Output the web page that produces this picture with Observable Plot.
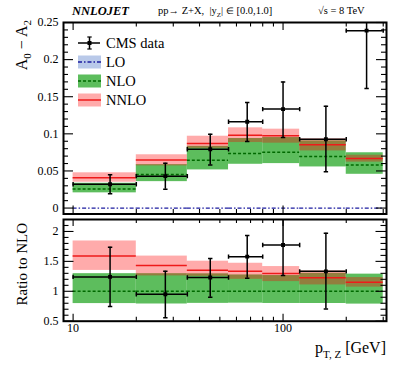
<!DOCTYPE html>
<html><head><meta charset="utf-8">
<script src="https://cdn.jsdelivr.net/npm/d3@7"></script>
<script src="https://cdn.jsdelivr.net/npm/@observablehq/plot@0.6"></script>
<style>
body{margin:0;background:#fff;}
#wrap{position:relative;width:407px;height:365px;font-family:"Liberation Serif",serif;color:#000;}
#wrap svg{position:absolute;left:0;overflow:visible;font-family:"Liberation Serif",serif !important;}
#wrap svg text{font-family:"Liberation Serif",serif !important;}
.hdr{position:absolute;white-space:nowrap;line-height:1;}
</style></head><body>
<div id="wrap">
  <div class="hdr" style="left:72px;top:5px;font-size:12.5px;font-weight:bold;font-style:italic;">NNLOJET</div>
  <div class="hdr" style="left:158px;top:6px;font-size:10.5px;">pp→ Z+X,&nbsp; |y<sub style="font-size:7px">Z</sub>| <span style="font-size:9px">∈</span> [0.0,1.0]</div>
  <div class="hdr" style="left:318px;top:6px;font-size:10.5px;">√s = 8 TeV</div>
</div>
<script>
// ---- data ----
const binLo = [10, 20, 35, 55, 80, 120, 200];
const binHi = [20, 35, 55, 80, 120, 200, 300];
const dataX = [15, 27.5, 45, 67.5, 100, 160, 250];
const dataY  = [0.032, 0.043, 0.0793, 0.1162, 0.1333, 0.0928, 0.239];
const dataLo = [0.0192, 0.0253, 0.058, 0.0896, 0.095, 0.049, 0.161];
const dataHi = [0.0448, 0.0604, 0.0996, 0.1423, 0.170, 0.137, 0.317];
const loY    = [0, 0, 0, 0, 0, 0, 0];
const nloY   = [0.0258, 0.0452, 0.0644, 0.0736, 0.0752, 0.0696, 0.0579];
const nloLo  = [0.0205, 0.0356, 0.0514, 0.0590, 0.0599, 0.0554, 0.0455];
const nloHi  = [0.0334, 0.0585, 0.0832, 0.0937, 0.0950, 0.0905, 0.0745];
const nnloY  = [0.0410, 0.0647, 0.0871, 0.0981, 0.0975, 0.0853, 0.0667];
const nnloLo = [0.0348, 0.0568, 0.0805, 0.0883, 0.0874, 0.0770, 0.0619];
const nnloHi = [0.0475, 0.0718, 0.0968, 0.1081, 0.1063, 0.0932, 0.0712];

const xMajor = [10, 100];
const xMinor = [20, 30, 40, 50, 60, 70, 80, 90, 200, 300];
const yTopMajor = [0, 0.05, 0.1, 0.15, 0.2, 0.25];
const yTopLabels = ["0", "0.05", "0.1", "0.15", "0.2", "0.25"];
const yRatMajor = [0.5, 1, 1.5, 2];
const yRatLabels = ["0.5", "1", "1.5", "2"];
const xLabels = ["10", "100"];

const rows = binLo.map((lo, i) => ({
  lo, hi: binHi[i], x: dataX[i],
  d: dataY[i], dLo: dataLo[i], dHi: dataHi[i], lo0: loY[i],
  nlo: nloY[i], nloLo: nloLo[i], nloHi: nloHi[i],
  nnlo: nnloY[i], nnloLo: nnloLo[i], nnloHi: nnloHi[i]
}));
const ratio = rows.map(r => ({
  lo: r.lo, hi: r.hi, x: r.x, one: 1,
  d: r.d / r.nlo, dLo: r.dLo / r.nlo, dHi: r.dHi / r.nlo,
  nloLo: r.nloLo / r.nlo, nloHi: r.nloHi / r.nlo,
  nnlo: r.nnlo / r.nlo, nnloLo: r.nnloLo / r.nlo, nnloHi: r.nnloHi / r.nlo
}));
const xTickRows = xMajor.map((v, i) => ({v, label: xLabels[i]}));

// ---- style ----
const GREEN = "#5dbd5d", GREENLINE = "#006a00", PINK = "red", PINKOP = 0.33;
const REDLINE = "#ee1a1a", BLUE = "#1c1ca0", LOBOX = "#b9c9e9";
const hcap = {draw(ctx){ ctx.moveTo(-2.2, 0); ctx.lineTo(2.2, 0); }};
const vcap = {draw(ctx){ ctx.moveTo(0, -2.2); ctx.lineTo(0, 2.2); }};

const W = 407, ML = 63, MR = 21, IW = W - ML - MR;
const xScale = {type: "log", domain: [9, 311], axis: null};
const style = {fontFamily: "'Liberation Serif', serif", fontSize: "12px", background: "transparent", color: "black"};

function tickMarks(IH, yMaj, yMin, xMajLen, xMinLen, yMajLen, yMinLen) {
  const s = {stroke: "black", strokeWidth: 1.1};
  return [
    Plot.ruleX(xMajor, {x: d => d, insetTop: IH - xMajLen, ...s}),
    Plot.ruleX(xMinor, {x: d => d, insetTop: IH - xMinLen, ...s}),
    Plot.ruleX(xMajor, {x: d => d, insetBottom: IH - xMajLen, ...s}),
    Plot.ruleX(xMinor, {x: d => d, insetBottom: IH - xMinLen, ...s}),
    Plot.ruleY(yMaj, {y: d => d, insetRight: IW - yMajLen, ...s}),
    Plot.ruleY(yMin, {y: d => d, insetRight: IW - yMinLen, ...s}),
    Plot.ruleY(yMaj, {y: d => d, insetLeft: IW - yMajLen, ...s}),
    Plot.ruleY(yMin, {y: d => d, insetLeft: IW - yMinLen, ...s})
  ];
}
function dataMarks(rs) {
  const s = {stroke: "black", strokeWidth: 1.5, clip: true};
  return [
    Plot.ruleY(rs, {x1: "lo", x2: "hi", y: "d", ...s}),
    Plot.ruleX(rs, {x: "x", y1: "dLo", y2: "dHi", ...s}),
    Plot.dot(rs, {x: "x", y: "dLo", symbol: hcap, fill: "none", ...s}),
    Plot.dot(rs, {x: "x", y: "dHi", symbol: hcap, fill: "none", ...s}),
    Plot.dot(rs, {x: "lo", y: "d", symbol: vcap, fill: "none", ...s}),
    Plot.dot(rs, {x: "hi", y: "d", symbol: vcap, fill: "none", ...s}),
    Plot.dot(rs, {x: "x", y: "d", symbol: "square", r: 2.2, fill: "black", stroke: "none", clip: true})
  ];
}

// ---- top panel ----
const H1 = 214, MT1 = 22, MB1 = 0.5, IH1 = H1 - MT1 - MB1;
const yTopMinor = d3.range(0.01, 0.25, 0.01).filter(v => Math.abs(v * 20 - Math.round(v * 20)) > 1e-6);
const topPlot = Plot.plot({
  width: W, height: H1, marginLeft: ML, marginRight: MR, marginTop: MT1, marginBottom: MB1,
  style, x: xScale, y: {domain: [-0.008, 0.25], axis: null},
  marks: [
    Plot.rect(rows, {x1: "lo", x2: "hi", y1: "nloLo", y2: "nloHi", fill: GREEN}),
    Plot.rect(rows, {x1: "lo", x2: "hi", y1: "nnloLo", y2: "nnloHi", fill: PINK, fillOpacity: PINKOP}),
    Plot.ruleY(rows, {x1: "lo", x2: "hi", y: "lo0", stroke: BLUE, strokeWidth: 1.3, strokeDasharray: "4,2,1.5,2"}),
    Plot.ruleY(rows, {x1: "lo", x2: "hi", y: "nlo", stroke: GREENLINE, strokeWidth: 1.5, strokeDasharray: "3,2"}),
    Plot.ruleY(rows, {x1: "lo", x2: "hi", y: "nnlo", stroke: REDLINE, strokeWidth: 1.5}),
    ...dataMarks(rows),
    ...tickMarks(IH1, yTopMajor, yTopMinor, 8, 4.5, 10, 5),
    Plot.frame({stroke: "black", strokeWidth: 2}),
    Plot.axisY({ticks: yTopMajor, tickSize: 0, tickPadding: 5, tickFormat: (d, i) => yTopLabels[i], label: null})
  ]
});
topPlot.style.top = "0px";
document.getElementById("wrap").appendChild(topPlot);

// ---- ratio panel ----
const H2 = 151, MT2 = 5, MB2 = 44.3, IH2 = H2 - MT2 - MB2;
const yRatMinor = d3.range(0.6, 2.15, 0.1).filter(v => Math.abs(v * 2 - Math.round(v * 2)) > 1e-6);
const ratPlot = Plot.plot({
  width: W, height: H2, marginLeft: ML, marginRight: MR, marginTop: MT2, marginBottom: MB2,
  style, x: xScale, y: {domain: [0.5, 2.2], axis: null},
  marks: [
    Plot.rect(ratio, {x1: "lo", x2: "hi", y1: "nloLo", y2: "nloHi", fill: GREEN, clip: true}),
    Plot.rect(ratio, {x1: "lo", x2: "hi", y1: "nnloLo", y2: "nnloHi", fill: PINK, fillOpacity: PINKOP, clip: true}),
    Plot.ruleY(ratio, {x1: "lo", x2: "hi", y: "one", stroke: GREENLINE, strokeWidth: 1.5, strokeDasharray: "3,2"}),
    Plot.ruleY(ratio, {x1: "lo", x2: "hi", y: "nnlo", stroke: REDLINE, strokeWidth: 1.5}),
    ...dataMarks(ratio),
    ...tickMarks(IH2, yRatMajor, yRatMinor, 7, 4, 10.5, 5.5),
    Plot.frame({stroke: "black", strokeWidth: 2}),
    Plot.axisY({ticks: yRatMajor, tickSize: 0, tickPadding: 5, tickFormat: (d, i) => yRatLabels[i], label: null}),
    Plot.text(xTickRows, {x: "v", text: "label", frameAnchor: "bottom", dy: 11, fontSize: 12, fill: "black"})
  ]
});
ratPlot.style.top = "214px";
document.getElementById("wrap").appendChild(ratPlot);

// ---- axis titles ----
const s1 = d3.select(topPlot), s2 = d3.select(ratPlot);
const t1 = s1.append("text").attr("transform", "translate(27,20) rotate(-90)")
  .attr("text-anchor", "end").attr("font-size", 16).attr("fill", "black");
t1.append("tspan").text("A");
t1.append("tspan").attr("font-size", 11).attr("dy", 4).text("0");
t1.append("tspan").attr("dy", -4).text(" − A");
t1.append("tspan").attr("font-size", 11).attr("dy", 4).text("2");

s2.append("text").attr("transform", "translate(27,9) rotate(-90)")
  .attr("text-anchor", "end").attr("font-size", 15).attr("fill", "black").text("Ratio to NLO");

const t3 = s2.append("text").attr("x", 386).attr("y", 139).attr("text-anchor", "end")
  .attr("font-size", 16).attr("fill", "black");
t3.append("tspan").text("p");
t3.append("tspan").attr("font-size", 11).attr("dy", 5).text("T, Z");
t3.append("tspan").attr("dy", -5).text(" [GeV]");

// ---- legend ----
const lg = s1.append("g").attr("text-anchor", "start");
const lx0 = 78, lx1 = 101, ltx = 106, ly = [43, 62, 81, 100];
lg.append("line").attr("x1", lx0).attr("x2", lx1 - 1).attr("y1", ly[0]).attr("y2", ly[0]).attr("stroke", "black").attr("stroke-width", 1.5);
lg.append("line").attr("x1", 89.5).attr("x2", 89.5).attr("y1", ly[0] - 6).attr("y2", ly[0] + 6).attr("stroke", "black").attr("stroke-width", 1.5);
lg.append("line").attr("x1", 87.3).attr("x2", 91.7).attr("y1", ly[0] - 6).attr("y2", ly[0] - 6).attr("stroke", "black").attr("stroke-width", 1.2);
lg.append("line").attr("x1", 87.3).attr("x2", 91.7).attr("y1", ly[0] + 6).attr("y2", ly[0] + 6).attr("stroke", "black").attr("stroke-width", 1.2);
lg.append("rect").attr("x", 87.5).attr("y", ly[0] - 2).attr("width", 4).attr("height", 4).attr("fill", "black");
const boxes = [
  {y: ly[1], fill: LOBOX, op: 1, stroke: BLUE, dash: "4,2,1.5,2"},
  {y: ly[2], fill: GREEN, op: 1, stroke: GREENLINE, dash: "3,2"},
  {y: ly[3], fill: PINK, op: PINKOP, stroke: REDLINE, dash: null}
];
for (const b of boxes) {
  lg.append("rect").attr("x", lx0).attr("y", b.y - 6.5).attr("width", lx1 - lx0).attr("height", 13)
    .attr("fill", b.fill).attr("fill-opacity", b.op);
  const l = lg.append("line").attr("x1", lx0).attr("x2", lx1).attr("y1", b.y).attr("y2", b.y)
    .attr("stroke", b.stroke).attr("stroke-width", 1.5);
  if (b.dash) l.attr("stroke-dasharray", b.dash);
}
["CMS data", "LO", "NLO", "NNLO"].forEach((t, i) => {
  lg.append("text").attr("x", ltx).attr("y", ly[i]).attr("dy", "0.35em").attr("font-size", 14.5)
    .attr("text-anchor", "start").attr("fill", "black").text(t);
});
</script>
</body></html>
